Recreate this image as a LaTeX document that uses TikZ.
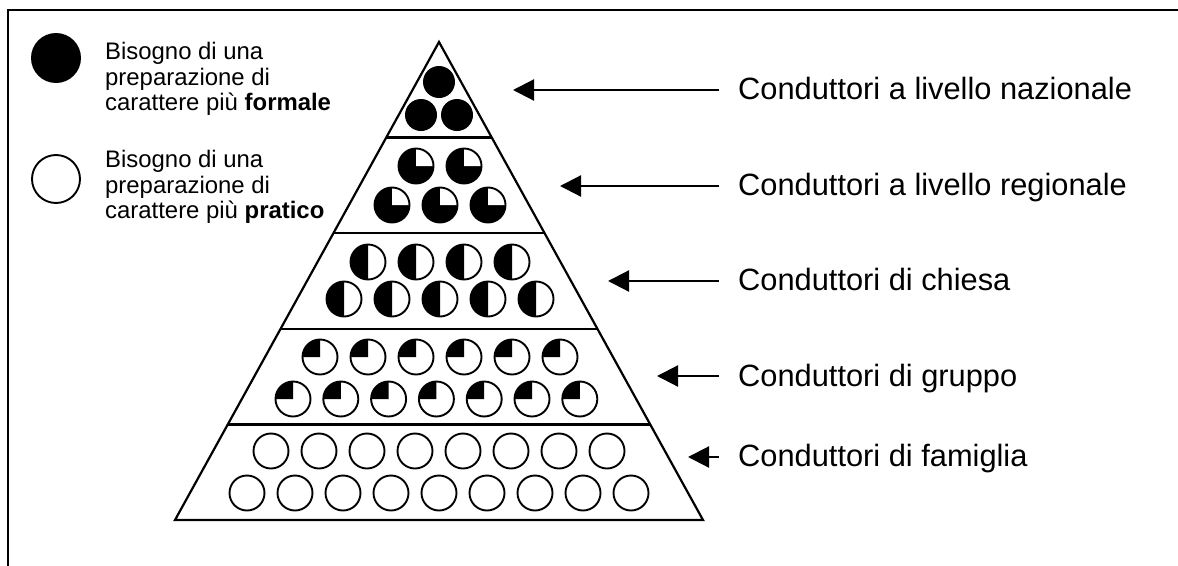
\documentclass[tikz,border=0pt]{standalone}
\usepackage{fontspec}
\setmainfont{Liberation Sans}
\usetikzlibrary{arrows.meta,calc}
\begin{document}
\begin{tikzpicture}[x=1pt,y=-1pt,
  frameline/.style={line width=2},
  pyr/.style={line width=2.2, line join=miter},
  band/.style={line width=2.4},
  circ/.style={line width=1.9},
  arr/.style={line width=2.2, -{Triangle[length=21pt,width=21pt]}},
  legtext/.style={anchor=base west, inner sep=0, font=\fontsize{23.9}{28}\selectfont},
  labtext/.style={anchor=base west, inner sep=0, font=\fontsize{30.8}{36}\selectfont},
  pfull/.pic={\fill (0,0) circle[radius=16];},
  pthree/.pic={\fill (0,0) circle[radius=17.5];
    \fill[white] (0,0) -- (17.5,0) arc[start angle=0,end angle=-90,radius=17.5] -- cycle;
    \draw[circ] (0,0) circle[radius=17.5];},
  phalf/.pic={\fill (0,0) -- (0,-17.5) arc[start angle=-90,end angle=-270,radius=17.5] -- cycle;
    \draw[circ] (0,0) circle[radius=17.5];},
  pquart/.pic={\fill (0,0) -- (-17.5,0) arc[start angle=180,end angle=270,radius=17.5] -- cycle;
    \draw[circ] (0,0) circle[radius=17.5];},
  pempty/.pic={\draw[circ] (0,0) circle[radius=17.5];}
]
\useasboundingbox (0,0) rectangle (1178,565);
% frame (top and left sides)
\draw[frameline] (8,566) -- (8,10) -- (1179,10);

% legend
\fill (56,58) circle[radius=25];
\draw[line width=1.9] (56,179) circle[radius=24];
\node[legtext] (l1a) at (105,59) {Bisogno di una};
\node[legtext] (l1b) at (105,85) {preparazione di};
\node[legtext] (l1c) at (105,110) {carattere più \textbf{formale}};
\node[legtext] (l2a) at (105,167) {Bisogno di una};
\node[legtext] (l2b) at (105,193) {preparazione di};
\node[legtext] (l2c) at (105,218) {carattere più \textbf{pratico}};

% pyramid
\coordinate (A) at (439,42);
\coordinate (BL) at (175,520);
\coordinate (BR) at (703,520);
\draw[pyr] (A) -- (BL) -- (BR) -- cycle;
\foreach \t in {0.2,0.4,0.6,0.8}
  \draw[band] ($(A)!\t!(BL)$) -- ($(A)!\t!(BR)$);

% band 1
\pic at (439,82) {pfull};
\pic at (421,115) {pfull};
\pic at (457,115) {pfull};
% band 2
\foreach \x in {416,464} \pic at (\x,166) {pthree};
\foreach \x in {392,440,488} \pic at (\x,205) {pthree};
% band 3
\foreach \x in {368,416,464,512} \pic at (\x,262) {phalf};
\foreach \x in {344,392,440,488,536} \pic at (\x,299) {phalf};
% band 4
\foreach \x in {320,368,416,464,512,560} \pic at (\x,357) {pquart};
\foreach \i in {0,...,6} \pic at (293+47.8*\i,399) {pquart};
% band 5
\foreach \i in {0,...,7} \pic at (271+48*\i,451) {pempty};
\foreach \i in {0,...,8} \pic at (247+48*\i,493) {pempty};

% labels and arrows
\node[labtext] (n1) at (738,99) {Conduttori a livello nazionale};
\node[labtext] (n2) at (738,195) {Conduttori a livello regionale};
\node[labtext] (n3) at (738,290) {Conduttori di chiesa};
\node[labtext] (n4) at (738,386) {Conduttori di gruppo};
\node[labtext] (n5) at (738,466) {Conduttori di famiglia};
\coordinate (s1) at (719,90);  \coordinate (e1) at (513,90);
\coordinate (s2) at (719,186); \coordinate (e2) at (560,186);
\coordinate (s3) at (719,281); \coordinate (e3) at (608,281);
\coordinate (s4) at (719,376); \coordinate (e4) at (657,376);
\coordinate (s5) at (719,457); \coordinate (e5) at (688,457);
\foreach \k in {1,...,5} \draw[arr] (s\k) -- (e\k);
\end{tikzpicture}
\end{document}
